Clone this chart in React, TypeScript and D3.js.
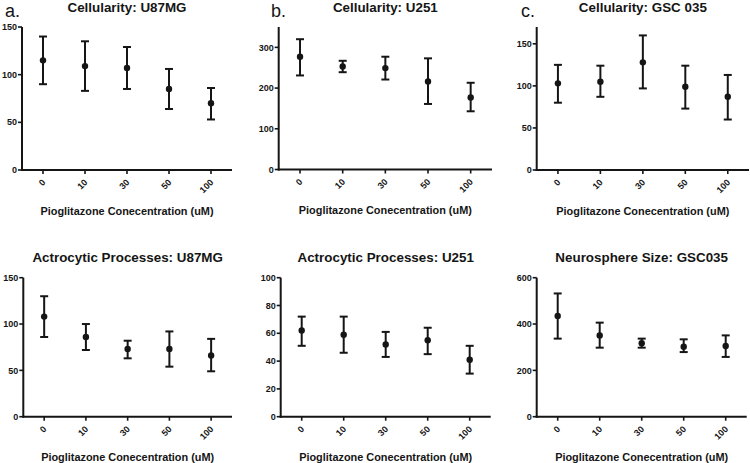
import React from "react";
import * as d3 from "d3";

const categories = ["0", "10", "30", "50", "100"];

const titles = [
  "Cellularity: U87MG",
  "Cellularity: U251",
  "Cellularity: GSC 035",
  "Actrocytic Processes: U87MG",
  "Actrocytic Processes: U251",
  "Neurosphere Size: GSC035",
];
const panelLetters = ["a.", "b.", "c.", "", "", ""];
const xLabel = "Pioglitazone Conecentration (uM)";

const aMean = [115, 109, 107, 85, 70];
const aLow = [90, 83, 85, 64, 53];
const aHigh = [140, 135, 129, 106, 86];

const bMean = [277, 253, 249, 216, 177];
const bLow = [231, 239, 221, 161, 143];
const bHigh = [320, 267, 277, 273, 213];

const cMean = [103, 105, 128, 99, 87];
const cLow = [80, 87, 97, 73, 60];
const cHigh = [125, 124, 160, 124, 113];

const dMean = [108, 86, 73, 73, 66];
const dLow = [86, 72, 63, 54, 49];
const dHigh = [130, 100, 82, 92, 84];

const eMean = [62, 59, 52, 55, 41];
const eLow = [51, 46, 43, 45, 31];
const eHigh = [72, 72, 61, 64, 51];

const fMean = [435, 351, 317, 302, 305];
const fLow = [337, 298, 298, 279, 258];
const fHigh = [532, 406, 337, 334, 351];

const yTicksA = [0, 50, 100, 150];
const yTicksB = [0, 100, 200, 300];
const yTicksC = [0, 50, 100, 150];
const yTicksD = [0, 50, 100, 150];
const yTicksE = [0, 20, 40, 60, 80, 100];
const yTicksF = [0, 200, 400, 600];

const yMax = [150, 350, 170, 150, 100, 600];

const series = [
  { mean: aMean, low: aLow, high: aHigh, ticks: yTicksA },
  { mean: bMean, low: bLow, high: bHigh, ticks: yTicksB },
  { mean: cMean, low: cLow, high: cHigh, ticks: yTicksC },
  { mean: dMean, low: dLow, high: dHigh, ticks: yTicksD },
  { mean: eMean, low: eLow, high: eHigh, ticks: yTicksE },
  { mean: fMean, low: fLow, high: fHigh, ticks: yTicksF },
];

// layout (pixel frames of each plot)
const frames = [
  { x0: 22, x1: 232, yt: 27, yb: 170, lx: 5 },
  { x0: 278.7, x1: 492, yt: 27, yb: 169.5, lx: 271 },
  { x0: 536.7, x1: 749, yt: 27, yb: 170, lx: 521 },
  { x0: 23.3, x1: 232, yt: 277.7, yb: 416.7, lx: 0 },
  { x0: 280.7, x1: 490.7, yt: 277.7, yb: 416.7, lx: 0 },
  { x0: 536.7, x1: 746.7, yt: 277.7, yb: 416.7, lx: 0 },
];

const INK = "#151515";
const FONT = "'Liberation Sans', Arial, sans-serif";

function Panel({ i }: { i: number }) {
  const f = frames[i];
  const s = series[i];
  const x = d3.scaleBand<string>().domain(categories).range([f.x0, f.x1]).padding(0);
  const y = d3.scaleLinear().domain([0, yMax[i]]).range([f.yb, f.yt]);
  const bw = x.bandwidth();
  const cx = (c: string) => (x(c) as number) + bw / 2;
  const midX = (f.x0 + f.x1) / 2;
  const titleY = f.yt - 15.5;
  const xLabelY = f.yb + 44.5;
  return (
    <g>
      {panelLetters[i] && (
        <text x={f.lx} y={17} fontFamily={FONT} fontSize={18} fill={INK}>
          {panelLetters[i]}
        </text>
      )}
      <text x={midX} y={titleY} textAnchor="middle" fontFamily={FONT} fontWeight="bold" fontSize={13.4} fill={INK}>
        {titles[i]}
      </text>
      {/* y axis */}
      <line x1={f.x0} x2={f.x0} y1={f.yb + 1} y2={y(yMax[i])} stroke={INK} strokeWidth={2} />
      {s.ticks.map((t) => (
        <g key={"yt" + t}>
          <line x1={f.x0 - 4} x2={f.x0} y1={y(t)} y2={y(t)} stroke={INK} strokeWidth={1.6} />
          <text x={f.x0 - 5} y={y(t)} dy="0.35em" textAnchor="end" fontFamily={FONT} fontWeight="bold" fontSize={9} fill={INK}>
            {t}
          </text>
        </g>
      ))}
      {/* x axis */}
      <line x1={f.x0 - 1} x2={f.x1} y1={f.yb} y2={f.yb} stroke={INK} strokeWidth={2} />
      {categories.map((c) => (
        <g key={"xt" + c}>
          <line x1={cx(c)} x2={cx(c)} y1={f.yb} y2={f.yb + 4} stroke={INK} strokeWidth={1.6} />
          <text
            transform={`translate(${cx(c) + 3},${f.yb + 13}) rotate(-45)`}
            textAnchor="end"
            fontFamily={FONT}
            fontWeight="bold"
            fontSize={9}
            fill={INK}
          >
            {c}
          </text>
        </g>
      ))}
      <text x={midX} y={xLabelY} textAnchor="middle" fontFamily={FONT} fontWeight="bold" fontSize={10.9} fill={INK}>
        {xLabel}
      </text>
      {/* error bars and means */}
      {categories.map((c, k) => (
        <g key={"eb" + c}>
          <line x1={cx(c)} x2={cx(c)} y1={y(s.low[k])} y2={y(s.high[k])} stroke={INK} strokeWidth={2} />
          <line x1={cx(c) - 4} x2={cx(c) + 4} y1={y(s.low[k])} y2={y(s.low[k])} stroke={INK} strokeWidth={2} />
          <line x1={cx(c) - 4} x2={cx(c) + 4} y1={y(s.high[k])} y2={y(s.high[k])} stroke={INK} strokeWidth={2} />
          <circle cx={cx(c)} cy={y(s.mean[k])} r={3.2} fill={INK} />
        </g>
      ))}
    </g>
  );
}

export default function App() {
  return (
    <svg
      width={750}
      height={463}
      style={{ position: "absolute", left: 0, top: 0, background: "#fff" }}
    >
      <rect width={750} height={463} fill="#fff" />
      {titles.map((_, i) => (
        <Panel key={i} i={i} />
      ))}
    </svg>
  );
}
